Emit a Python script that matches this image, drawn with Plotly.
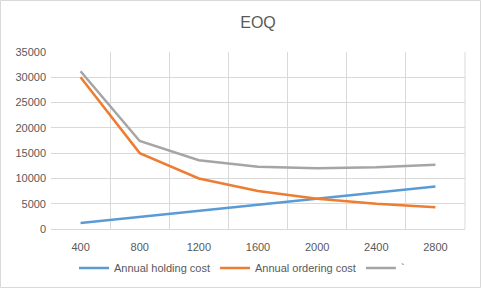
import plotly.graph_objects as go

order_qty = ["400", "800", "1200", "1600", "2000", "2400", "2800"]
holding_cost = [1200, 2400, 3600, 4800, 6000, 7200, 8400]
ordering_cost = [30000, 15000, 10000, 7500, 6000, 5000, 4286]
total_cost = [31200, 17400, 13600, 12300, 12000, 12200, 12686]

W, H = 481, 288
ml, mr, mt, mb = 51, 16, 52, 59
pw, ph = W - ml - mr, H - mt - mb

font = "Liberation Sans, Arial, sans-serif"
txt = "#595959"

fig = go.Figure()
fig.add_trace(go.Scatter(x=order_qty, y=holding_cost, mode="lines", name="Annual holding cost",
                         line=dict(color="#5B9BD5", width=2.5)))
fig.add_trace(go.Scatter(x=order_qty, y=ordering_cost, mode="lines", name="Annual ordering cost",
                         line=dict(color="#ED7D31", width=2.5)))
fig.add_trace(go.Scatter(x=order_qty, y=total_cost, mode="lines", name="`",
                         line=dict(color="#A5A5A5", width=2.5)))

fig.update_layout(
    width=W, height=H,
    margin=dict(l=ml, r=mr, t=mt, b=mb, autoexpand=False),
    paper_bgcolor="white", plot_bgcolor="white",
    font=dict(family=font, size=11, color=txt),
    title=dict(text="EOQ", x=0.5, xref="paper", xanchor="center", y=1 - 22 / H, yanchor="middle",
               font=dict(family=font, size=16, color=txt)),
    showlegend=True,
    legend=dict(orientation="h", x=(242 - ml) / pw, xanchor="center", y=-(268 - (H - mb)) / ph,
                yanchor="middle", font=dict(family=font, size=11, color=txt),
                bgcolor="rgba(0,0,0,0)", itemwidth=30),
    xaxis=dict(type="category", range=[-0.5, len(order_qty) - 0.5], tickson="boundaries",
               showgrid=True, gridcolor="#D9D9D9", automargin=False,
               gridwidth=1, ticks="", showline=True, linecolor="#D9D9D9", mirror=False,
               tickfont=dict(size=11, color=txt), zeroline=False, ticklabelstandoff=8),
    yaxis=dict(range=[0, 35000], dtick=5000, tickformat="d", showgrid=True, gridcolor="#D9D9D9",
               gridwidth=1, ticks="", showline=False, zeroline=False, automargin=False,
               tickfont=dict(size=11, color=txt), ticklabelstandoff=4),
)

# outer chart border
fig.add_shape(type="rect", xref="paper", yref="paper",
              x0=(0.5 - ml) / pw, x1=(W - 0.5 - ml) / pw,
              y0=-(H - 0.5 - (H - mb)) / ph, y1=(H - mb - 0.5) / ph,
              line=dict(color="#D9D9D9", width=1), layer="below")
# right boundary grid line
fig.add_shape(type="line", xref="paper", yref="paper", x0=1, x1=1, y0=0, y1=1,
              line=dict(color="#D9D9D9", width=1), layer="below")

fig.write_html("out.html")
